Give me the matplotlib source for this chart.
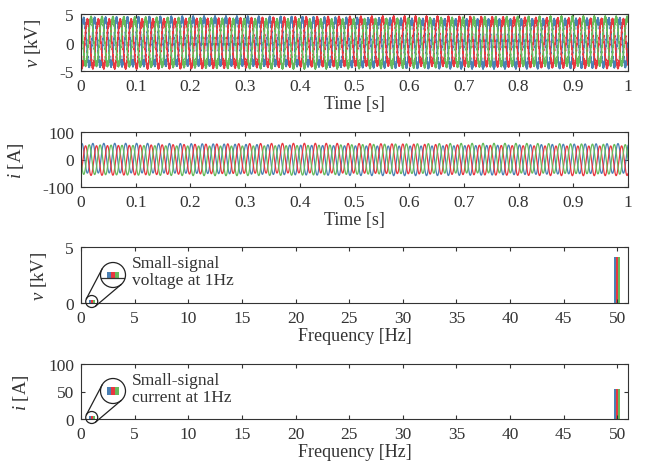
import numpy as np
import matplotlib
matplotlib.use('Agg')
from matplotlib import pyplot as plt
from matplotlib.patches import Ellipse, Circle
from matplotlib.lines import Line2D

plt.rcParams['font.family'] = ['Liberation Serif', 'DejaVu Serif']
plt.rcParams['mathtext.fontset'] = 'custom'
plt.rcParams['mathtext.it'] = 'Liberation Serif:italic'
plt.rcParams['mathtext.rm'] = 'Liberation Serif'
plt.rcParams['axes.unicode_minus'] = False

# ---- signal parameters ----
phases = ['a', 'b', 'c']
colors = ['#4a80b4', '#e8373f', '#66bb5c']
phase_shift_deg = [0, -120, 120]      # 50 Hz phase angles
f_fund = 50.0                         # fundamental [Hz]
f_ss = 1.0                            # small-signal [Hz]
v_fund = [4.1, 4.1, 4.1]              # kV
v_ss = [0.25, 0.25, 0.25]             # kV
v_ripple = 0.35                       # kV switching ripple
f_ripple = 1150.0
i_fund = [54.0, 54.0, 54.0]           # A
i_ss = [5.0, 5.0, 5.0]                # A
i_phase_deg = 60                      # current vs voltage angle

# spectrum bars (frequency, per-phase amplitude)
spec_freq = [f_ss, f_fund]
spec_v = [v_ss, v_fund]
spec_i = [i_ss, i_fund]
bar_offsets = [-0.2, 0.0, 0.2]

t = np.linspace(0, 1, 20001)

W, H = 646, 477
fig = plt.figure(figsize=(W / 100, H / 100), dpi=100)
TXT = '#333333'


def box(top, bottom, left=81, right=628):
    return [left / W, 1 - bottom / H, (right - left) / W, (bottom - top) / H]


def style(ax):
    ax.tick_params(direction='in', top=True, right=True, length=3, labelsize=12.5,
                   colors=TXT)
    ax.tick_params(axis='x', pad=5)
    ax.tick_params(axis='y', pad=5)
    for s in ax.spines.values():
        s.set_color(TXT)
        s.set_linewidth(0.8)


ax1 = fig.add_axes(box(15, 72))
ax2 = fig.add_axes(box(133, 188))
ax3 = fig.add_axes(box(248, 304))
ax4 = fig.add_axes(box(365, 420))

for k in range(3):
    ph = np.deg2rad(phase_shift_deg[k])
    v = (v_fund[k] * np.sin(2 * np.pi * f_fund * t + ph)
         + v_ss[k] * np.sin(2 * np.pi * f_ss * t + ph)
         + v_ripple * np.sin(2 * np.pi * f_ripple * t + 3 * ph))
    ax1.plot(t, v, color=colors[k], lw=1.0)
    iph = ph + np.deg2rad(i_phase_deg)
    i = (i_fund[k] * np.sin(2 * np.pi * f_fund * t + iph)
         + i_ss[k] * np.sin(2 * np.pi * f_ss * t + iph))
    ax2.plot(t, i, color=colors[k], lw=0.9)

for ax, lim, ticks, lab in [(ax1, (-5, 5), [-5, 0, 5], '$v$ [kV]'),
                            (ax2, (-100, 100), [-100, 0, 100], '$i$ [A]')]:
    ax.set_xlim(0, 1)
    ax.set_ylim(*lim)
    ax.set_yticks(ticks)
    ax.set_xticks(np.arange(0, 1.01, 0.1))
    ax.set_xticklabels(['0'] + [f'{x:.1f}' for x in np.arange(0.1, 0.95, 0.1)] + ['1'])
    ax.set_xlabel('Time [s]', fontsize=13, color=TXT, labelpad=1)
    ax.set_ylabel(lab, fontsize=13.5, color=TXT, labelpad=12)
    style(ax)

for ax, data, lim, ticks, lab in [(ax3, spec_v, (0, 5), [0, 5], '$v$ [kV]'),
                                  (ax4, spec_i, (0, 100), [0, 50, 100], '$i$ [A]')]:
    for f, amps in zip(spec_freq, data):
        for k in range(3):
            ax.bar(f + bar_offsets[k], amps[k], width=0.2, color=colors[k], lw=0)
    ax.set_xlim(0, 51)
    ax.set_ylim(*lim)
    ax.set_yticks(ticks)
    ax.set_xticks(np.arange(0, 51, 5))
    ax.set_xlabel('Frequency [Hz]', fontsize=13, color=TXT, labelpad=1)
    ax.set_ylabel(lab, fontsize=13.5, color=TXT, labelpad=12)
    style(ax)

fig.align_ylabels([ax1, ax2, ax3, ax4])


def to_fig(xp, yp_top):
    return xp / W, 1 - yp_top / H


def magnifier(ax, data, big_c, r_big, r_small, ylim, text, text_xy, baseline):
    # small circle around the 1 Hz bars (pixel coords from top)
    disp = ax.transData.transform((spec_freq[0], 0))
    sx, sy = disp[0], H - disp[1] - 1.5
    bx, by = big_c
    for (cx, cy, r) in [(sx, sy, r_small), (bx, by, r_big)]:
        fx, fy = to_fig(cx, cy)
        fig.add_artist(Ellipse((fx, fy), 2 * r / W, 2 * r / H, fill=False,
                               ec='#222222', lw=0.9, transform=fig.transFigure, zorder=5))
    # outer tangents between circles
    c1 = np.array([sx, -sy]); c2 = np.array([bx, -by])
    d = c2 - c1; D = np.linalg.norm(d); u = d / D; p = np.array([-u[1], u[0]])
    cphi = (r_small - r_big) / D; sphi = np.sqrt(1 - cphi ** 2)
    for sgn in (1, -1):
        n = u * cphi + sgn * p * sphi
        a = c1 + r_small * n; b = c2 + r_big * n
        (ax_, ay_), (bx_, by_) = to_fig(a[0], -a[1]), to_fig(b[0], -b[1])
        fig.add_artist(Line2D([ax_, bx_], [ay_, by_], color='#222222', lw=0.9,
                              transform=fig.transFigure, zorder=5))
    # magnified view
    ins = fig.add_axes([(bx - r_big) / W, 1 - (by + r_big) / H, 2 * r_big / W, 2 * r_big / H])
    ins.axis('off')
    circ = Circle((0.5, 0.5), 0.5, transform=ins.transAxes, fill=False)
    for k in range(3):
        b_ = ins.bar(spec_freq[0] + bar_offsets[k], data[0][k], width=0.2,
                     color=colors[k], lw=0)
        b_[0].set_clip_path(circ)
    if baseline:
        ln, = ins.plot([0, 2], [0, 0], color=TXT, lw=0.9)
        ln.set_clip_path(circ)
    ins.set_xlim(spec_freq[0] - 0.625, spec_freq[0] + 0.625)
    ins.set_ylim(*ylim)
    tx, ty = to_fig(*text_xy)
    fig.text(tx, ty, text, fontsize=12.5, color=TXT, va='top', linespacing=1.1)


magnifier(ax3, spec_v, (113, 276), 12.5, 6.0, (-0.41, 0.63),
          'Small-signal\nvoltage at 1Hz', (132, 256), True)
magnifier(ax4, spec_i, (113, 392), 12.5, 6.0, (-5.3, 10.3),
          'Small-signal\ncurrent at 1Hz', (132, 373), False)

plt.savefig('out.png', dpi=100)
